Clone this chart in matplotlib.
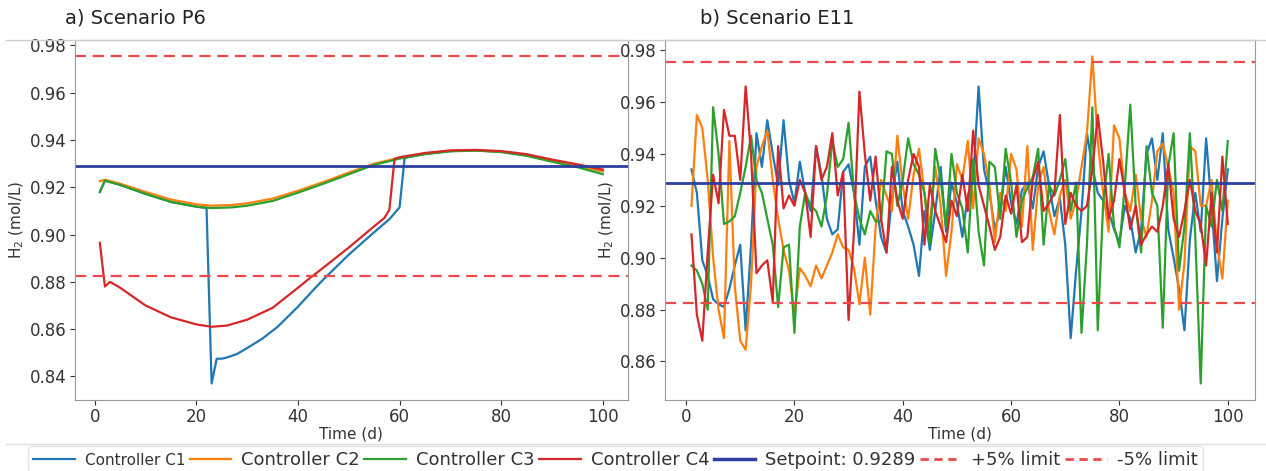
import numpy as np
import matplotlib.pyplot as plt
from matplotlib.lines import Line2D

# setpoint and limits
setpoint = 0.9289
upper = setpoint * 1.05
lower = setpoint * 0.95

# ---------------- a) Scenario P6 (values read off the plot)
daysA_c2 = [1, 2, 5, 10, 15, 20, 23, 27, 30, 35, 40, 45, 50, 55, 60, 65, 70, 75, 80, 85, 90, 95, 100]
c2_a = [0.9225, 0.9232, 0.9215, 0.9180, 0.9148, 0.9128, 0.9122, 0.9125, 0.9132, 0.9152, 0.9185, 0.9222, 0.9262, 0.9300, 0.9325, 0.9343, 0.9354, 0.9356, 0.9350, 0.9336, 0.9312, 0.9292, 0.9268]
daysA_c3 = [1, 2, 5, 10, 15, 20, 23, 27, 30, 35, 40, 45, 50, 55, 60, 65, 70, 75, 80, 85, 90, 95, 100]
c3_a = [0.9180, 0.9228, 0.9210, 0.9172, 0.9138, 0.9118, 0.9112, 0.9115, 0.9122, 0.9142, 0.9177, 0.9215, 0.9255, 0.9295, 0.9321, 0.9340, 0.9352, 0.9355, 0.9349, 0.9333, 0.9308, 0.9285, 0.9255]
daysA_c1 = [1, 2, 5, 10, 15, 20, 22, 23, 24, 25, 26, 28, 30, 33, 36, 40, 43, 45, 50, 55, 58, 60, 61, 65, 70, 75, 80, 85, 90, 95, 100]
c1_a = [0.9180, 0.9228, 0.9210, 0.9172, 0.9138, 0.9118, 0.9112, 0.8370, 0.8475, 0.8475, 0.8480, 0.8495, 0.8520, 0.8560, 0.8610, 0.8695, 0.8765, 0.8810, 0.8915, 0.9010, 0.9065, 0.9115, 0.9325, 0.9341, 0.9353, 0.9356, 0.9350, 0.9335, 0.9311, 0.9290, 0.9268]
daysA_c4 = [1, 2, 3, 5, 10, 15, 20, 23, 26, 30, 35, 40, 42, 45, 50, 55, 57, 58, 59, 60, 65, 70, 75, 80, 85, 90, 95, 100]
c4_a = [0.8965, 0.8780, 0.8800, 0.8775, 0.8700, 0.8650, 0.8620, 0.8610, 0.8615, 0.8640, 0.8690, 0.8775, 0.8810, 0.8860, 0.8945, 0.9035, 0.9070, 0.9105, 0.9320, 0.9327, 0.9345, 0.9356, 0.9358, 0.9353, 0.9340, 0.9317, 0.9297, 0.9275]

# ---------------- b) Scenario E11
days_b = np.arange(1, 101)
c1_b = [0.934, 0.925, 0.899, 0.893, 0.884, 0.882, 0.881, 0.888, 0.897, 0.905,
        0.872, 0.905, 0.948, 0.935, 0.953, 0.940, 0.928, 0.953, 0.930, 0.921,
        0.937, 0.925, 0.918, 0.943, 0.932, 0.915, 0.909, 0.911, 0.933, 0.936,
        0.925, 0.905, 0.935, 0.939, 0.922, 0.908, 0.902, 0.923, 0.937, 0.918,
        0.912, 0.905, 0.893, 0.918, 0.903, 0.918, 0.935, 0.910, 0.929, 0.921,
        0.908, 0.924, 0.930, 0.966, 0.934, 0.925, 0.911, 0.918, 0.935, 0.921,
        0.913, 0.926, 0.929, 0.919, 0.935, 0.941, 0.928, 0.916, 0.923, 0.905,
        0.869, 0.895, 0.918, 0.948, 0.935, 0.925, 0.922, 0.918, 0.911, 0.906,
        0.920, 0.915, 0.902, 0.911, 0.940, 0.946, 0.930, 0.948, 0.911, 0.900,
        0.888, 0.872, 0.907, 0.925, 0.910, 0.946, 0.920, 0.891, 0.915, 0.934]
c2_b = [0.920, 0.955, 0.950, 0.930, 0.900, 0.880, 0.869, 0.945, 0.889, 0.868,
        0.8645, 0.890, 0.935, 0.943, 0.949, 0.930, 0.915, 0.903, 0.895, 0.878,
        0.896, 0.893, 0.889, 0.897, 0.892, 0.897, 0.902, 0.909, 0.904, 0.903,
        0.896, 0.882, 0.900, 0.878, 0.912, 0.930, 0.924, 0.918, 0.947, 0.928,
        0.915, 0.932, 0.942, 0.925, 0.912, 0.935, 0.920, 0.893, 0.910, 0.936,
        0.930, 0.945, 0.919, 0.946, 0.940, 0.928, 0.906, 0.925, 0.918, 0.940,
        0.934, 0.912, 0.943, 0.903, 0.928, 0.935, 0.918, 0.909, 0.924, 0.930,
        0.915, 0.922, 0.935, 0.948, 0.9776, 0.945, 0.925, 0.910, 0.951, 0.946,
        0.925, 0.918, 0.932, 0.915, 0.908, 0.922, 0.941, 0.944, 0.935, 0.925,
        0.880, 0.898, 0.943, 0.941, 0.920, 0.920, 0.930, 0.905, 0.892, 0.922]
c3_b = [0.897, 0.895, 0.890, 0.880, 0.958, 0.940, 0.913, 0.914, 0.916, 0.925,
        0.935, 0.947, 0.930, 0.925, 0.915, 0.905, 0.881, 0.904, 0.905, 0.871,
        0.912, 0.925, 0.920, 0.918, 0.912, 0.924, 0.945, 0.935, 0.938, 0.952,
        0.925, 0.915, 0.909, 0.918, 0.914, 0.914, 0.941, 0.940, 0.920, 0.930,
        0.946, 0.936, 0.932, 0.925, 0.905, 0.942, 0.930, 0.912, 0.940, 0.925,
        0.919, 0.902, 0.938, 0.910, 0.897, 0.937, 0.935, 0.915, 0.942, 0.929,
        0.908, 0.922, 0.927, 0.931, 0.942, 0.905, 0.928, 0.924, 0.930, 0.938,
        0.918, 0.929, 0.871, 0.905, 0.958, 0.872, 0.921, 0.940, 0.912, 0.904,
        0.928, 0.959, 0.920, 0.902, 0.943, 0.925, 0.920, 0.873, 0.935, 0.948,
        0.895, 0.912, 0.948, 0.908, 0.8515, 0.920, 0.912, 0.930, 0.918, 0.945]
c4_b = [0.909, 0.878, 0.868, 0.902, 0.932, 0.921, 0.957, 0.947, 0.947, 0.930,
        0.966, 0.940, 0.894, 0.897, 0.899, 0.883, 0.943, 0.919, 0.924, 0.920,
        0.930, 0.925, 0.908, 0.943, 0.930, 0.935, 0.948, 0.924, 0.933, 0.876,
        0.910, 0.964, 0.940, 0.922, 0.939, 0.915, 0.902, 0.935, 0.922, 0.915,
        0.930, 0.940, 0.935, 0.905, 0.928, 0.918, 0.912, 0.906, 0.922, 0.916,
        0.932, 0.918, 0.949, 0.928, 0.920, 0.912, 0.903, 0.908, 0.924, 0.917,
        0.928, 0.906, 0.908, 0.930, 0.937, 0.918, 0.921, 0.925, 0.955, 0.913,
        0.925, 0.920, 0.918, 0.920, 0.934, 0.955, 0.937, 0.915, 0.922, 0.938,
        0.925, 0.911, 0.920, 0.905, 0.909, 0.912, 0.910, 0.920, 0.936, 0.915,
        0.908, 0.918, 0.930, 0.918, 0.913, 0.897, 0.925, 0.902, 0.939, 0.913]

colors = ['#1f77b4', '#ff7f0e', '#2ca02c', '#d62728']
sp_color = '#2b3f9e'
lim_color = '#ec4a4a'
txt = '#333333'

fig = plt.figure(figsize=(12.66, 4.71), dpi=100)
axA = fig.add_axes([0.059, 0.151, 0.437, 0.764])
axB = fig.add_axes([0.525, 0.151, 0.466, 0.764])

seriesA = [(daysA_c1, c1_a), (daysA_c2, c2_a), (daysA_c3, c3_a), (daysA_c4, c4_a)]
seriesB = [c1_b, c2_b, c3_b, c4_b]

for i in range(4):
    axA.plot(seriesA[i][0], seriesA[i][1], color=colors[i], lw=1.6)
    axB.plot(days_b, seriesB[i], color=colors[i], lw=1.6)

for ax in [axA, axB]:
    ax.axhline(setpoint, color=sp_color, lw=2)
    ax.axhline(upper, color=lim_color, lw=1.6, ls='--', dashes=(5, 3))
    ax.axhline(lower, color=lim_color, lw=1.6, ls='--', dashes=(5, 3))
    ax.set_xlabel("Time (d)", fontsize=11, color=txt, labelpad=1)
    ax.set_ylabel("H$_2$ (mol/L)", fontsize=11, color=txt, labelpad=3)
    ax.tick_params(labelsize=12, colors=txt, pad=2)
    for sp in ax.spines.values():
        sp.set_color('#999999')
    ax.set_xticks([0, 20, 40, 60, 80, 100])

axA.set_yticks([0.84, 0.86, 0.88, 0.90, 0.92, 0.94, 0.96, 0.98])
axB.set_yticks([0.86, 0.88, 0.90, 0.92, 0.94, 0.96, 0.98])

fig.text(65/1266, 1 - 18/471, "a) Scenario P6", fontsize=14, va='center', color='#222222')
fig.text(700/1266, 1 - 18/471, "b) Scenario E11", fontsize=14, va='center', color='#222222')

# separator lines
fig.add_artist(Line2D([0.005, 1], [1 - 40/471, 1 - 40/471], color='#cccccc', lw=1))
fig.add_artist(Line2D([0.005, 1], [1 - 444/471, 1 - 444/471], color='#dddddd', lw=1))

handles = [Line2D([], [], color=c, lw=1.6) for c in colors]
handles.append(Line2D([], [], color=sp_color, lw=2.5))
handles.append(Line2D([], [], color=lim_color, lw=2, ls='--', dashes=(3, 2)))
handles.append(Line2D([], [], color=lim_color, lw=2, ls='--', dashes=(3, 2)))
labels = ["Controller C1", "Controller C2", "Controller C3", "Controller C4",
          "Setpoint: 0.9289", "+5% limit", "-5% limit"]
leg = fig.legend(handles, labels, loc='upper left', bbox_to_anchor=(28/1266, 1 - 446/471),
                 ncol=7, fontsize=13, frameon=True, columnspacing=0.25, handletextpad=0.55,
                 handlelength=2.3, borderaxespad=0, borderpad=0.3)
leg.get_frame().set_edgecolor('#dddddd')
for t in leg.get_texts():
    t.set_color(txt)
leg.get_texts()[0].set_fontsize(11)

fig.savefig("out.png", dpi=100)
